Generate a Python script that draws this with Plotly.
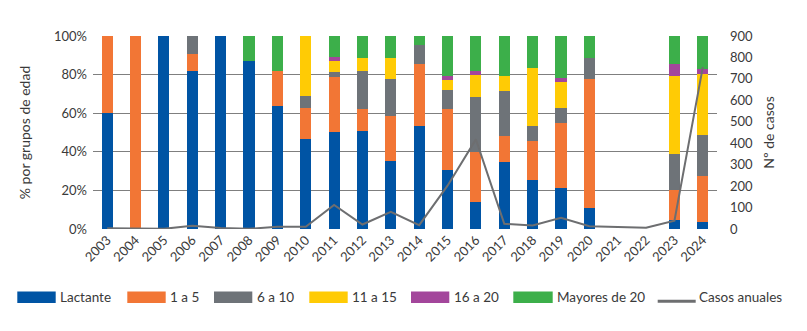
import plotly.graph_objects as go

years = [str(y) for y in range(2003, 2025)]

lactante = [60.0, 0, 100, 81.8, 100, 87.0, 63.6, 46.6, 50.3, 50.8, 35.3, 53.4, 30.7, 14.2, 34.8, 25.5, 21.4, 11.1, None, None, 4.5, 3.4]
uno_a_cinco = [40.0, 100, 0, 9.1, 0, 0, 18.2, 15.9, 28.3, 11.3, 23.2, 31.9, 31.4, 25.8, 13.4, 20.1, 33.5, 66.5, None, None, 15.9, 24.2]
seis_a_diez = [0, 0, 0, 9.1, 0, 0, 0, 6.3, 2.6, 19.6, 19.1, 9.8, 9.8, 28.3, 23.2, 7.8, 7.7, 10.8, None, None, 18.5, 21.1]
once_a_quince = [0, 0, 0, 0, 0, 0, 0, 31.2, 5.7, 6.7, 10.8, 0, 5.2, 11.3, 7.7, 29.8, 13.4, 0, None, None, 40.2, 31.5]
dieciseis_a_veinte = [0, 0, 0, 0, 0, 0, 0, 0, 2.2, 0, 0, 0, 2.0, 2.1, 0, 0, 2.1, 0, None, None, 6.2, 2.5]
mayores_20 = [0, 0, 0, 0, 0, 13.0, 18.2, 0, 10.9, 11.6, 11.6, 4.9, 20.9, 18.3, 20.9, 16.8, 21.9, 11.6, None, None, 14.7, 17.3]
casos_anuales = [3, 1, 1, 15, 5, 1, 10, 10, 112, 21, 80, 18, 202, 418, 24, 16, 52, 13, 8, 6, 39, 755]

series_names = ["Lactante", "1 a 5", "6 a 10", "11 a 15", "16 a 20", "Mayores de 20"]
series_values = [lactante, uno_a_cinco, seis_a_diez, once_a_quince, dieciseis_a_veinte, mayores_20]
line_name = "Casos anuales"

colors = ["#0054A4", "#F27635", "#6E7378", "#FFCB05", "#A3469B", "#3CAF4A"]
line_color = "#6D6E70"

FONT = "Lato"
TXT = "#3A3A3A"

fig = go.Figure()
for name, vals, col in zip(series_names, series_values, colors):
    fig.add_trace(go.Bar(x=years, y=vals, name=name, marker=dict(color=col, line=dict(width=0)),
                         width=0.39, showlegend=False))
fig.add_trace(go.Scatter(x=years, y=casos_anuales, name=line_name, mode="lines",
                         line=dict(color=line_color, width=2), yaxis="y2", showlegend=False))

# plot area geometry (pixels)
W, H = 807, 331
L, R, T, B = 93, 717, 35.5, 229.5
pw, ph = R - L, B - T

def px(x):
    return (x - L) / pw

def py(y):
    return (B - y) / ph

# manual legend
rects = [(17.3, 55.7, 58.3), (127.3, 165.7, 168.3), (214, 252.3, 255), (309.3, 347.7, 350),
         (411, 449.3, 452), (513.3, 552.7, 554.5)]
shapes = []
annotations = []
for (x0, x1, tx), name, col in zip(rects, series_names, colors):
    shapes.append(dict(type="rect", xref="paper", yref="paper", x0=px(x0), x1=px(x1),
                       y0=py(304), y1=py(292.3), fillcolor=col, line=dict(width=0)))
    annotations.append(dict(text=name, xref="paper", yref="paper", x=px(tx), y=py(298),
                            xanchor="left", yanchor="middle", showarrow=False,
                            font=dict(family=FONT, size=13.5, color=TXT)))
shapes.append(dict(type="line", xref="paper", yref="paper", x0=px(657.7), x1=px(695.7),
                   y0=py(302), y1=py(302), line=dict(color=line_color, width=3)))
annotations.append(dict(text=line_name, xref="paper", yref="paper", x=px(697), y=py(298),
                        xanchor="left", yanchor="middle", showarrow=False,
                        font=dict(family=FONT, size=13.5, color=TXT)))

fig.update_layout(
    width=W, height=H,
    margin=dict(l=L, r=W - R, t=T, b=H - B, pad=0),
    barmode="stack",
    paper_bgcolor="white", plot_bgcolor="white",
    font=dict(family=FONT, size=13, color=TXT),
    shapes=shapes, annotations=annotations,
    xaxis=dict(type="category", tickangle=-45, showgrid=False, zeroline=False,
               showline=False, ticks="", tickfont=dict(size=13), range=[-0.5, 21.5]),
    yaxis=dict(range=[0, 100], dtick=20, ticksuffix="%", showgrid=True, gridcolor="#7F7F7F",
               gridwidth=1, zeroline=False, showline=False, ticks="", ticklabelstandoff=5,
               title=dict(text="% por grupos de edad", font=dict(size=14), standoff=20),
               tickfont=dict(size=13)),
    yaxis2=dict(range=[0, 900], dtick=100, overlaying="y", side="right", showgrid=False,
                zeroline=False, showline=False, ticks="", ticklabelstandoff=12,
                title=dict(text="Nº de casos", font=dict(size=14), standoff=12),
                tickfont=dict(size=13)),
)

fig.write_html("out.html")
